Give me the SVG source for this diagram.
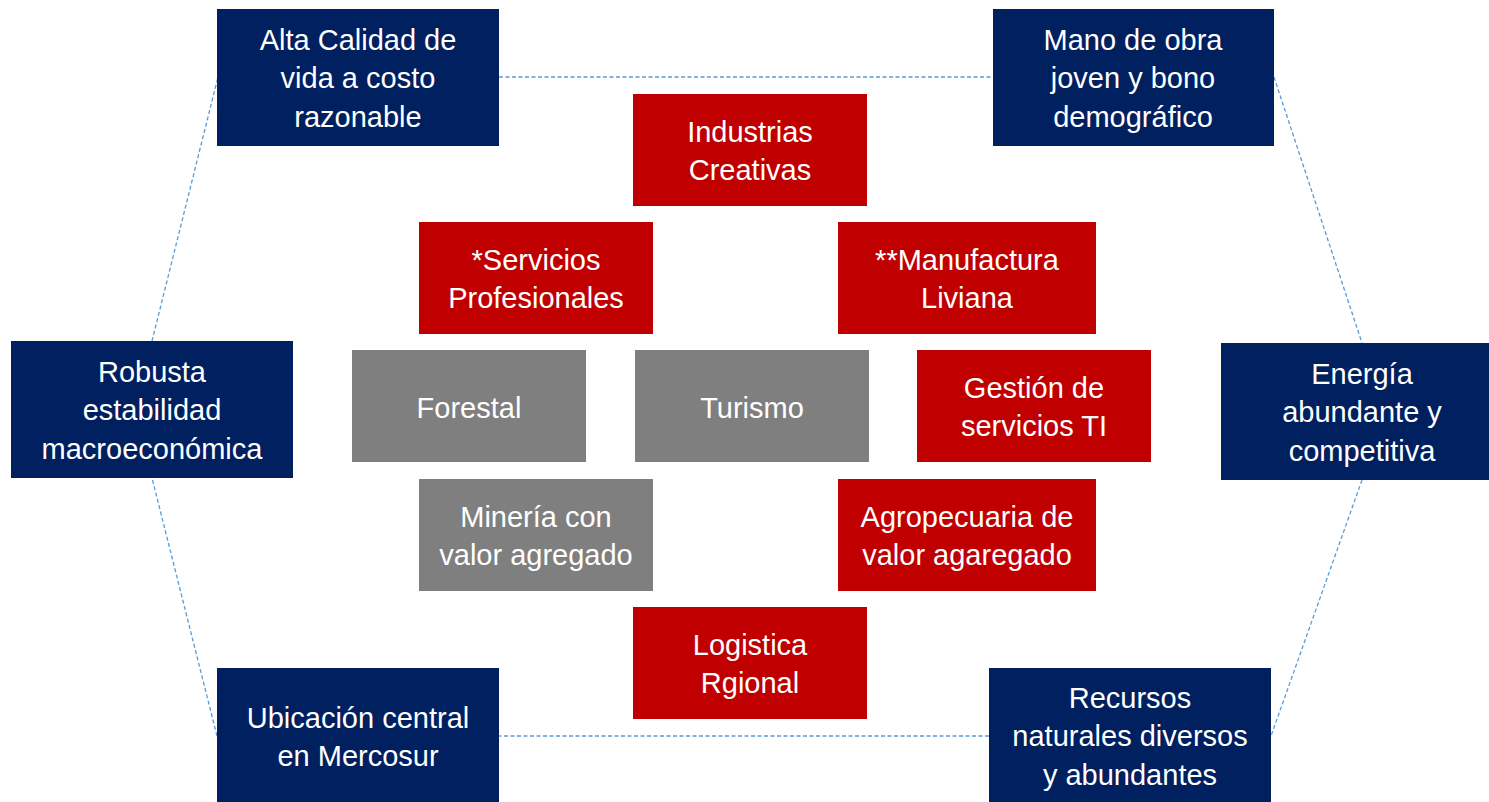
<svg xmlns="http://www.w3.org/2000/svg" width="1489" height="802" viewBox="0 0 1489 802">
<style>
.blue{fill:#002060}
.red{fill:#C00000}
.gray{fill:#7F7F7F}
.t{font-family:"Liberation Sans",Arial,sans-serif;font-size:29px;fill:#FFFFFF;text-anchor:middle}
.c{fill:none;stroke:#5B9BD5;stroke-width:1.3;stroke-dasharray:4 2.5}
</style>
<rect width="1489" height="802" fill="#FFFFFF"/>
<g id="connectors">
<line class="c" x1="499" y1="77" x2="993" y2="77"/>
<line class="c" x1="1274" y1="77" x2="1362" y2="343"/>
<line class="c" x1="1362" y1="480" x2="1271" y2="736"/>
<line class="c" x1="989" y1="736" x2="499" y2="736"/>
<line class="c" x1="217" y1="736" x2="152" y2="478"/>
<line class="c" x1="152" y1="341" x2="218" y2="77"/>
</g>
<g id="alta">
<rect class="blue" x="217" y="9" width="282" height="137"/>
<text class="t" x="358" y="50">Alta Calidad de</text>
<text class="t" x="358" y="88">vida a costo</text>
<text class="t" x="358" y="127">razonable</text>
</g>
<g id="mano">
<rect class="blue" x="993" y="9" width="281" height="137"/>
<text class="t" x="1133" y="50">Mano de obra</text>
<text class="t" x="1133" y="88">joven y bono</text>
<text class="t" x="1133" y="127">demográfico</text>
</g>
<g id="robusta">
<rect class="blue" x="11" y="341" width="282" height="137"/>
<text class="t" x="152" y="382">Robusta</text>
<text class="t" x="152" y="420">estabilidad</text>
<text class="t" x="152" y="459">macroeconómica</text>
</g>
<g id="energia">
<rect class="blue" x="1221" y="343" width="282" height="137"/>
<text class="t" x="1362" y="384">Energía</text>
<text class="t" x="1362" y="422">abundante y</text>
<text class="t" x="1362" y="461">competitiva</text>
</g>
<g id="ubicacion">
<rect class="blue" x="217" y="668" width="282" height="137"/>
<text class="t" x="358" y="728">Ubicación central</text>
<text class="t" x="358" y="766">en Mercosur</text>
</g>
<g id="recursos">
<rect class="blue" x="989" y="668" width="282" height="137"/>
<text class="t" x="1130" y="708">Recursos</text>
<text class="t" x="1130" y="746">naturales diversos</text>
<text class="t" x="1130" y="785">y abundantes</text>
</g>
<g id="industrias">
<rect class="red" x="633" y="94" width="234" height="112"/>
<text class="t" x="750" y="142">Industrias</text>
<text class="t" x="750" y="180">Creativas</text>
</g>
<g id="servicios">
<rect class="red" x="419" y="222" width="234" height="112"/>
<text class="t" x="536" y="270">*Servicios</text>
<text class="t" x="536" y="308">Profesionales</text>
</g>
<g id="manufactura">
<rect class="red" x="838" y="222" width="258" height="112"/>
<text class="t" x="967" y="270">**Manufactura</text>
<text class="t" x="967" y="308">Liviana</text>
</g>
<g id="forestal">
<rect class="gray" x="352" y="350" width="234" height="112"/>
<text class="t" x="469" y="418">Forestal</text>
</g>
<g id="turismo">
<rect class="gray" x="635" y="350" width="234" height="112"/>
<text class="t" x="752" y="418">Turismo</text>
</g>
<g id="gestion">
<rect class="red" x="917" y="350" width="234" height="112"/>
<text class="t" x="1034" y="398">Gestión de</text>
<text class="t" x="1034" y="436">servicios TI</text>
</g>
<g id="mineria">
<rect class="gray" x="419" y="479" width="234" height="112"/>
<text class="t" x="536" y="527">Minería con</text>
<text class="t" x="536" y="565">valor agregado</text>
</g>
<g id="agropecuaria">
<rect class="red" x="838" y="479" width="258" height="112"/>
<text class="t" x="967" y="527">Agropecuaria de</text>
<text class="t" x="967" y="565">valor agaregado</text>
</g>
<g id="logistica">
<rect class="red" x="633" y="607" width="234" height="112"/>
<text class="t" x="750" y="655">Logistica</text>
<text class="t" x="750" y="693">Rgional</text>
</g>
</svg>
